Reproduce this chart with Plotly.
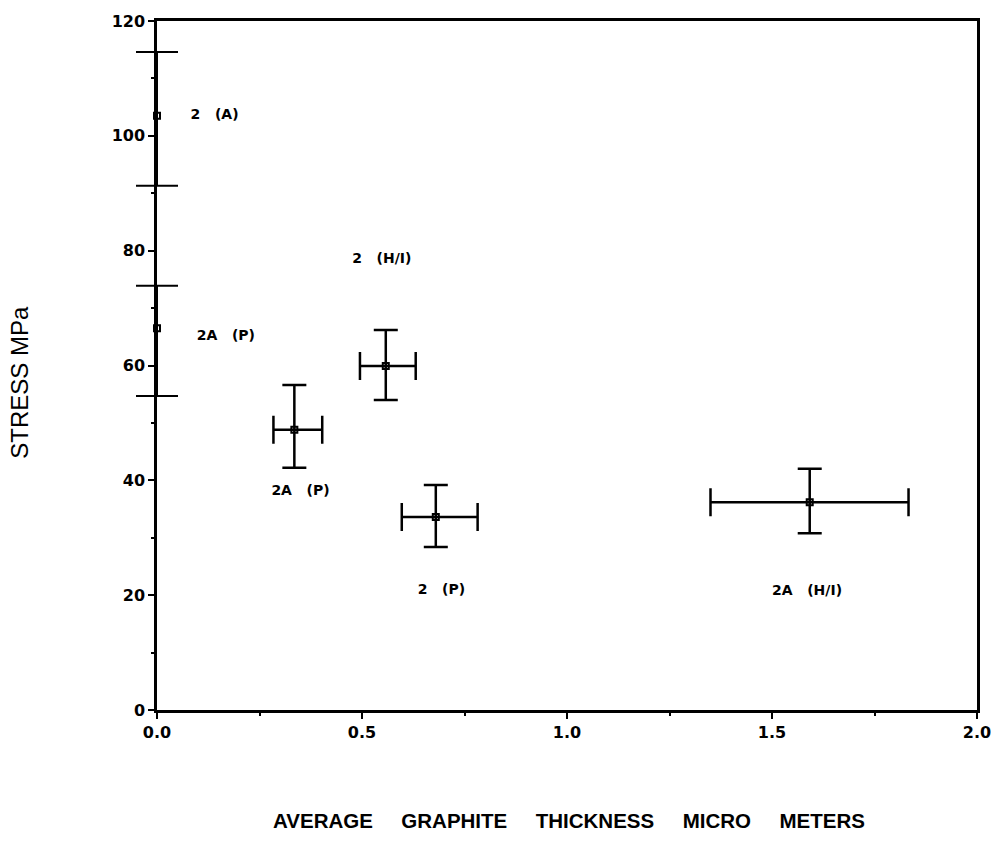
import plotly.graph_objects as go

# Data
x_edge = [0.0, 0.0]
y_edge = [103.5, 66.5]
yerr_edge_plus = [11.1, 7.4]
yerr_edge_minus = [12.2, 11.8]

x_pts = [0.335, 0.558, 0.68, 1.592]
y_pts = [48.8, 59.9, 33.6, 36.2]
yerr_plus = [7.8, 6.3, 5.6, 5.8]
yerr_minus = [6.6, 5.9, 5.2, 5.4]
xerr_plus = [0.068, 0.073, 0.102, 0.241]
xerr_minus = [0.051, 0.063, 0.083, 0.242]

label_text = ["2", "2A", "2", "2A", "2", "2A"]
label_tag = ["(A)", "(P)", "(H/I)", "(P)", "(P)", "(H/I)"]
label_x = [0.082, 0.097, 0.476, 0.279, 0.636, 1.500]
label_y = [103.5, 65.0, 78.4, 38.0, 20.9, 20.6]

x_ticks = [0.0, 0.5, 1.0, 1.5, 2.0]
x_ticklabels = ["0.0", "0.5", "1.0", "1.5", "2.0"]
y_ticks = [0, 20, 40, 60, 80, 100, 120]
y_ticklabels = ["0", "20", "40", "60", "80", "100", "120"]

LAB_FONT = "DejaVu Sans, sans-serif"
TITLE_FONT = "Liberation Sans, Arial, sans-serif"
NB = "\u00a0"

fig = go.Figure()

# points lying on the y axis (x = 0): vertical bar + caps drawn as unclipped markers
fig.add_trace(go.Scatter(
    x=x_edge, y=y_edge, mode="markers",
    marker=dict(symbol="square-open", size=6, color="black", line=dict(width=2)),
    error_y=dict(type="data", symmetric=False, array=yerr_edge_plus, arrayminus=yerr_edge_minus,
                 color="black", thickness=2, width=0),
    cliponaxis=False, showlegend=False, hoverinfo="skip",
))
cap_x = x_edge + x_edge
cap_y = [y + p for y, p in zip(y_edge, yerr_edge_plus)] + [y - m for y, m in zip(y_edge, yerr_edge_minus)]
fig.add_trace(go.Scatter(
    x=cap_x, y=cap_y, mode="markers",
    marker=dict(symbol="line-ew", size=30, color="black", line=dict(width=2, color="black")),
    cliponaxis=False, showlegend=False, hoverinfo="skip",
))

fig.add_trace(go.Scatter(
    x=x_pts, y=y_pts, mode="markers",
    marker=dict(symbol="square-open", size=6, color="black", line=dict(width=2)),
    error_y=dict(type="data", symmetric=False, array=yerr_plus, arrayminus=yerr_minus,
                 color="black", thickness=2.5, width=12),
    error_x=dict(type="data", symmetric=False, array=xerr_plus, arrayminus=xerr_minus,
                 color="black", thickness=2.5, width=14),
    cliponaxis=False, showlegend=False, hoverinfo="skip",
))

fig.add_trace(go.Scatter(
    x=label_x, y=label_y, mode="text",
    text=[a + NB * 3 + b for a, b in zip(label_text, label_tag)],
    textposition="middle right",
    textfont=dict(family=LAB_FONT, size=14, color="black", weight="bold"),
    showlegend=False, hoverinfo="skip", cliponaxis=False,
))

fig.update_xaxes(
    range=[0, 2.0], tickvals=x_ticks, ticktext=x_ticklabels,
    showgrid=False, zeroline=False, showline=True, linecolor="black", linewidth=2.5,
    mirror=True, ticks="outside", ticklen=6, tickwidth=2, tickcolor="black",
    minor=dict(dtick=0.25, ticks="outside", ticklen=3, tickwidth=1.5, tickcolor="black"),
    tickfont=dict(family=LAB_FONT, size=16, color="black", weight="bold"),
)
fig.update_yaxes(
    range=[0, 120], tickvals=y_ticks, ticktext=y_ticklabels,
    showgrid=False, zeroline=False, showline=True, linecolor="black", linewidth=2.5,
    mirror=True, ticks="outside", ticklen=6, tickwidth=2, tickcolor="black",
    minor=dict(dtick=10, ticks="outside", ticklen=3, tickwidth=1.5, tickcolor="black"),
    tickfont=dict(family=LAB_FONT, size=16, color="black", weight="bold"),
)

fig.update_layout(
    width=1003, height=846,
    margin=dict(l=157, r=21, t=21, b=136),
    plot_bgcolor="white", paper_bgcolor="white",
    annotations=[
        dict(text=(NB * 5).join(["AVERAGE", "GRAPHITE", "THICKNESS", "MICRO", "METERS"]),
             xref="paper", yref="paper", x=0.503, y=-0.161, xanchor="center", yanchor="middle",
             showarrow=False, font=dict(family=TITLE_FONT, size=20.5, color="black", weight="bold")),
        dict(text="STRESS MPa", xref="paper", yref="paper", x=-0.167, y=0.475,
             xanchor="center", yanchor="middle", textangle=-90,
             showarrow=False, font=dict(family=TITLE_FONT, size=24, color="black")),
    ],
)

fig.write_html("out.html")
